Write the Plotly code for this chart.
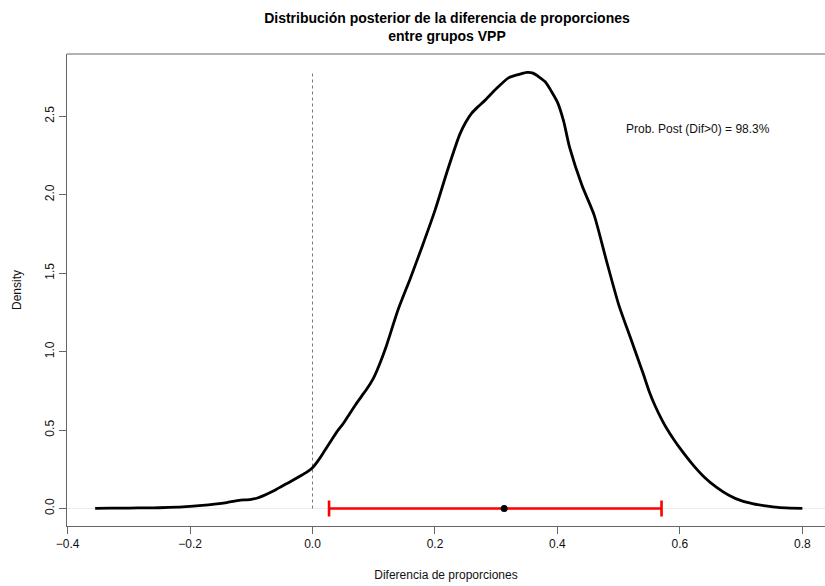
import plotly.graph_objects as go

# Density curve
dens_x = [-0.355, -0.33, -0.30, -0.27, -0.25, -0.22, -0.20, -0.18, -0.16, -0.14, -0.13, -0.12,
          -0.11, -0.10, -0.09, -0.08, -0.07, -0.06, -0.05, -0.04, -0.03, -0.02, -0.01, 0.0,
          0.01, 0.02, 0.03, 0.04, 0.05, 0.06, 0.07, 0.08, 0.09, 0.10, 0.11, 0.12, 0.14, 0.16, 0.18,
          0.20, 0.22, 0.24, 0.25, 0.26, 0.27, 0.28, 0.30, 0.32, 0.34, 0.35, 0.36, 0.38, 0.39, 0.40,
          0.41, 0.42, 0.44, 0.46, 0.48, 0.50, 0.52, 0.54, 0.55, 0.56, 0.57, 0.58, 0.59, 0.60,
          0.62, 0.64, 0.66, 0.68, 0.70, 0.72, 0.74, 0.76, 0.78, 0.80]
dens_y = [0.001, 0.002, 0.003, 0.004, 0.005, 0.009, 0.014, 0.020, 0.028, 0.038, 0.045, 0.052,
          0.055, 0.058, 0.067, 0.082, 0.100, 0.120, 0.142, 0.163, 0.185, 0.207, 0.230, 0.260,
          0.310, 0.370, 0.430, 0.490, 0.540, 0.600, 0.660, 0.715, 0.770, 0.835, 0.925, 1.030,
          1.270, 1.470, 1.680, 1.900, 2.150, 2.380, 2.460, 2.520, 2.560, 2.595, 2.675, 2.745,
          2.770, 2.780, 2.775, 2.720, 2.660, 2.590, 2.470, 2.300, 2.060, 1.870, 1.580, 1.300,
          1.080, 0.860, 0.745, 0.650, 0.570, 0.500, 0.440, 0.385, 0.285, 0.200, 0.135, 0.085,
          0.050, 0.030, 0.017, 0.007, 0.003, 0.001]

# Credible interval and point estimate
ci_low = 0.027
ci_high = 0.570
point_est = 0.313
ref_line_x = 0.0
density_max = 2.78

x_ticks = [-0.4, -0.2, 0.0, 0.2, 0.4, 0.6, 0.8]
x_ticklabels = ["\u22120.4", "\u22120.2", "0.0", "0.2", "0.4", "0.6", "0.8"]
y_ticks = [0.0, 0.5, 1.0, 1.5, 2.0, 2.5]
y_ticklabels = ["0.0", "0.5", "1.0", "1.5", "2.0", "2.5"]

title_text = "<b>Distribución posterior de la diferencia de proporciones<br>entre grupos VPP</b>"
prob_text = "Prob. Post (Dif>0) = 98.3%"

FONT = "Liberation Sans, Arial, Helvetica, sans-serif"
AXC = "#666666"

fig = go.Figure()

# faint zero line
fig.add_trace(go.Scatter(x=[-0.401, 0.837], y=[0, 0], mode="lines",
                         line=dict(color="#ececec", width=1), hoverinfo="skip", showlegend=False))
# dashed reference line at 0
fig.add_trace(go.Scatter(x=[ref_line_x, ref_line_x], y=[0, density_max], mode="lines",
                         line=dict(color="#777777", width=1, dash="3px,3px"),
                         hoverinfo="skip", showlegend=False))
# density curve
fig.add_trace(go.Scatter(x=dens_x, y=dens_y, mode="lines",
                         line=dict(color="black", width=2.8, shape="spline", smoothing=0.6),
                         showlegend=False))
# interval with point
fig.add_trace(go.Scatter(x=[point_est], y=[0], mode="markers",
                         marker=dict(color="black", size=7),
                         error_x=dict(type="data", symmetric=False,
                                      array=[ci_high - point_est], arrayminus=[point_est - ci_low],
                                      color="red", thickness=2.6, width=8),
                         showlegend=False))

fig.add_annotation(x=0.63, y=2.42, xref="x", yref="y", text=prob_text, showarrow=False,
                   font=dict(family=FONT, size=12, color="#111111"))

# top border of box
fig.add_shape(type="line", xref="paper", yref="paper", x0=0, x1=1, y0=1, y1=1,
              line=dict(color=AXC, width=1))

fig.update_layout(
    width=825, height=586,
    margin=dict(l=67, r=0, t=54, b=60),
    paper_bgcolor="white", plot_bgcolor="white",
    font=dict(family=FONT, size=12, color="#111111"),
    title=dict(text=title_text, x=447 / 825, xanchor="center", xref="container",
               y=1 - 23 / 586, yanchor="middle", yref="container",
               font=dict(family=FONT, size=14, color="black")),
    xaxis=dict(range=[-0.401, 0.837], tickvals=x_ticks, ticktext=x_ticklabels,
               showgrid=False, zeroline=False, showline=True, linecolor=AXC, linewidth=1,
               ticks="outside", ticklen=7, tickcolor=AXC, tickwidth=1,
               title=dict(text="Diferencia de proporciones", standoff=20,
                          font=dict(size=12)),
               tickfont=dict(size=12)),
    yaxis=dict(range=[-0.1114, 2.897], tickvals=y_ticks, ticktext=y_ticklabels,
               showgrid=False, zeroline=False, showline=True, linecolor=AXC, linewidth=1,
               ticks="outside", ticklen=7, tickcolor=AXC, tickwidth=1, tickangle=-90,
               title=dict(text="Density", standoff=19, font=dict(size=12)),
               tickfont=dict(size=12)),
)

fig.write_html("out.html")
